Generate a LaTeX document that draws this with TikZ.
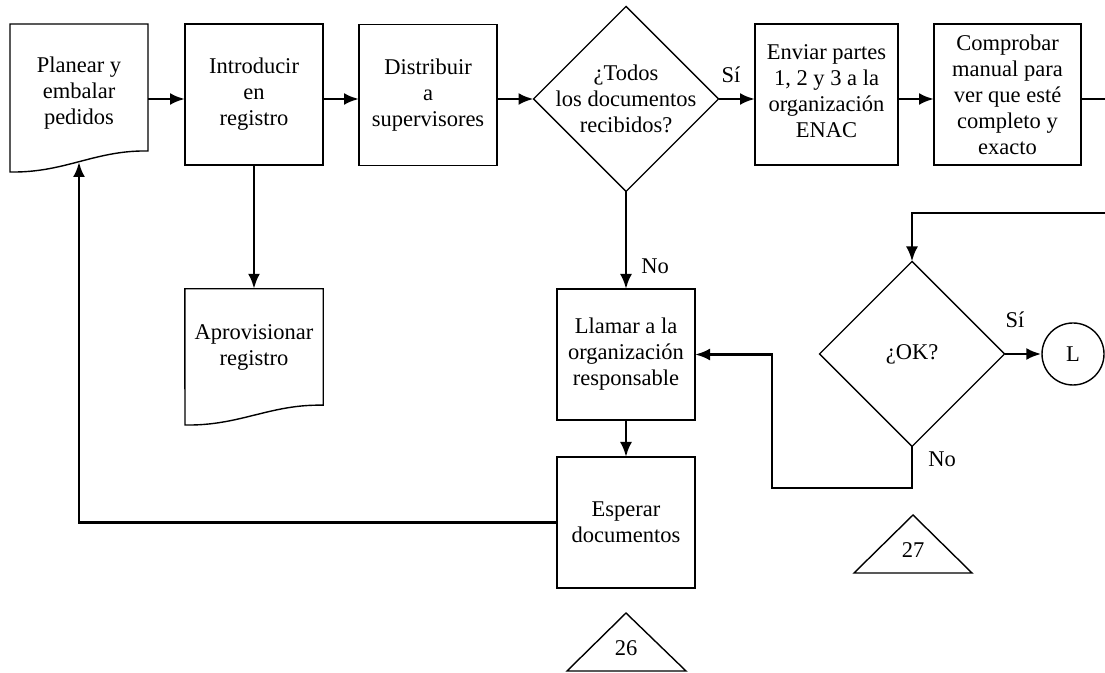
\documentclass[tikz,border=0pt]{standalone}
\usepackage{fontspec}
\setmainfont{Liberation Serif}
\usetikzlibrary{arrows.meta}
\usetikzlibrary{shapes.geometric}

\begin{document}
\begin{tikzpicture}[>={Latex[length=15bp,width=12bp]},line join=miter,
  every node/.style={font=\fontsize{22.5bp}{26bp}\selectfont},
  proc/.style={draw,line width=1.4bp,align=center,inner sep=0pt,outer sep=0pt,minimum width=138bp,minimum height=141bp},
  decision/.style={draw,diamond,line width=1.4bp,align=center,inner sep=-30bp,outer sep=0pt,minimum width=185bp,minimum height=185bp},
  doc/.style={line width=1.4bp},
  flow/.style={line width=2.8bp,->},
  tag/.style={inner sep=0pt}]
\useasboundingbox (0bp,0bp) rectangle (1105bp,673bp);
%%
\node (node_planear) at (79bp,580bp) [tag,align=center,minimum width=138bp] {Planear y\\embalar\\pedidos};
  \node (node_introducir) at (254bp,578.5bp) [proc] {Introducir\\en\\registro};
  \node (node_distribuir) at (428bp,578bp) [proc] {Distribuir\\a\\supervisores};
  \node (node_todos) at (626bp,574bp) [decision] {¿Todos\\los documentos\\recibidos?};
  \node (node_enviar) at (826.5bp,578.5bp) [proc,minimum width=143bp,text depth=6bp] {Enviar partes\\1, 2 y 3 a la\\organización\\ENAC};
  \node (node_comprobar) at (1007.5bp,578.5bp) [proc,minimum width=147bp] {Comprobar\\manual para\\ver que esté\\completo y\\exacto};
  \node (node_aprovisionar) at (254bp,326bp) [tag,align=center,minimum width=138bp,minimum height=116bp] {Aprovisionar\\registro};
  \node (node_llamar) at (626bp,318.5bp) [proc,minimum height=131bp] {Llamar a la\\organización\\responsable};
  \node (node_esperar) at (626bp,150.5bp) [proc,minimum height=131bp] {Esperar\\documentos};
  \node (node_ok) at (912bp,319bp) [decision] {¿OK?};
  \node (node_l) at (1073bp,319bp) [draw,circle,line width=1.4bp,inner sep=0pt,minimum size=62bp] {L};
  \node (node_26) at (626bp,25bp) [tag] {26};
  \node (node_27) at (913bp,123bp) [tag] {27};
  \node (lbl_si_todos) at (731bp,598bp) [tag] {Sí};
  \node (lbl_no_todos) at (655bp,407bp) [tag] {No};
  \node (lbl_si_ok) at (1015bp,353bp) [tag] {Sí};
  \node (lbl_no_ok) at (942bp,214bp) [tag] {No};
  \coordinate (coord_out) at (1105bp,574bp);
  \coordinate (coord_in) at (1105bp,460bp);
  \coordinate (coord_pedidos) at (79bp,511bp);
  \coordinate (coord_loop) at (772bp,185bp);
%% document outlines and connector triangles
  \draw [doc] (148bp,522bp) .. controls (95bp,523bp) and (65bp,500bp) .. (10bp,501bp) -- (10bp,649bp) -- (148bp,649bp) -- cycle;
  \draw [doc] (node_aprovisionar.south east) .. controls (270bp,269bp) and (240bp,247bp) .. (185bp,248bp) -- (node_aprovisionar.north west) -- (node_aprovisionar.north east) -- cycle;
  \draw [doc] (567bp,2bp) -- (626bp,60bp) -- (686bp,2bp) -- cycle;
  \draw [doc] (854bp,100bp) -- (913bp,158bp) -- (972bp,100bp) -- cycle;
%% flow lines
  \draw [flow] (node_planear.east |- node_todos) -- (node_introducir.west |- node_todos);
  \draw [flow] (node_introducir.east |- node_todos) -- (node_distribuir.west |- node_todos);
  \draw [flow] (node_distribuir.east |- node_todos) -- (node_todos.west);
  \draw [flow] (node_todos.east) -- (node_enviar.west |- node_todos);
  \draw [flow] (node_enviar.east |- node_todos) -- (node_comprobar.west |- node_todos);
  \draw [flow,-] (node_comprobar.east |- node_todos) -- (coord_out);
  \draw [flow] (node_introducir.south) -- (node_aprovisionar.north);
  \draw [flow] (node_todos.south) -- (node_llamar.north);
  \draw [flow] (node_llamar.south) -- (node_esperar.north);
  \draw [flow] (node_esperar.west) -| (coord_pedidos);
  \draw [flow] (coord_in) -| (node_ok.north);
  \draw [flow] (node_ok.east) -- (node_l);
  \draw [flow] (node_ok.south) |- (coord_loop) |- (node_llamar.east);
%
\end{tikzpicture}
\end{document}
